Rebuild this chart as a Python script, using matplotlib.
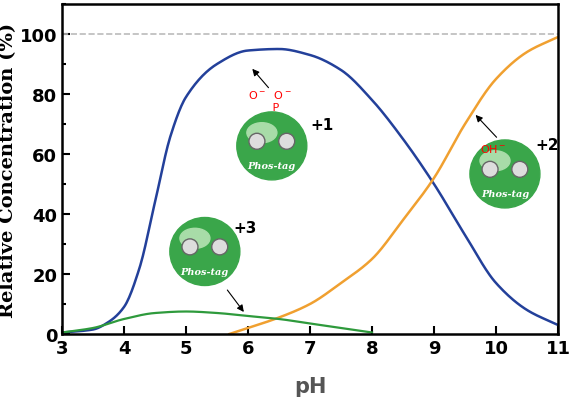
import matplotlib
matplotlib.use("Agg")
import matplotlib.pyplot as plt
from matplotlib.patches import Ellipse
from matplotlib.ticker import MultipleLocator
import numpy as np

blue_x = [3,3.5,3.75,4,4.25,4.5,4.75,5,5.5,6,6.5,7,7.5,8,8.5,9,9.5,10,10.5,11]
blue_y = [0.5,1.5,4,9,22,44,66,79,90,94.5,95,93,88,78,65,50,33,17,8,3]
orange_x = [5.7,6,6.5,7,7.5,8,8.5,9,9.5,10,10.5,11]
orange_y = [0,2,5.5,10,17,25,38,52,70,85,94,99]
green_x = [3,3.5,4,4.5,5,5.5,6,6.5,7,7.5,8]
green_y = [0.5,2,5,7,7.5,7,6,5,3.5,2,0.5]

def smooth(x, y):
    xs = np.linspace(x[0], x[-1], 400)
    x = np.array(x, float); y = np.array(y, float)
    h = np.diff(x); d = np.diff(y)/h
    m = np.zeros_like(y)
    for i in range(1, len(y)-1):
        if d[i-1]*d[i] > 0:
            w1 = 2*h[i]+h[i-1]; w2 = h[i]+2*h[i-1]
            m[i] = (w1+w2)/(w1/d[i-1]+w2/d[i])
    m[0] = d[0]; m[-1] = d[-1]
    ys = np.empty_like(xs)
    for i, xv in enumerate(xs):
        k = min(max(np.searchsorted(x, xv) - 1, 0), len(h)-1)
        t = (xv - x[k]) / h[k]
        h00 = 2*t**3-3*t**2+1; h10 = t**3-2*t**2+t; h01 = -2*t**3+3*t**2; h11 = t**3-t**2
        ys[i] = h00*y[k]+h10*h[k]*m[k]+h01*y[k+1]+h11*h[k]*m[k+1]
    return xs, ys

fig = plt.figure(figsize=(5.74, 4.14), dpi=100)
ax = fig.add_axes([62/574, 1-335/414, 496/574, 330/414])
ax.axhline(100, color='#bbbbbb', ls='--', lw=1.2)
ax.plot(*smooth(blue_x, blue_y), color='#23409a', lw=1.8)
ax.plot(*smooth(orange_x, orange_y), color='#f0a030', lw=1.8)
ax.plot(*smooth(green_x, green_y), color='#2e9a3c', lw=1.6)
ax.set_xlim(3, 11); ax.set_ylim(0, 110)
ax.xaxis.set_major_locator(MultipleLocator(1))
ax.yaxis.set_major_locator(MultipleLocator(20))
ax.yaxis.set_minor_locator(MultipleLocator(10))
ax.tick_params(direction='in', which='both', top=False, right=False, labelsize=13, width=1.5)
ax.tick_params(which='major', length=6)
ax.tick_params(which='minor', length=3)
for lab in ax.get_xticklabels() + ax.get_yticklabels():
    lab.set_fontweight('bold')
for s in ax.spines.values():
    s.set_linewidth(1.8)
ax.set_xlabel('pH', fontsize=15, fontweight='bold', color='#555555', labelpad=14)
ax.set_ylabel('Relative Concentration (%)', fontsize=14, fontweight='bold', family='DejaVu Serif', labelpad=2)

W, H = 496, 330
def sphere(cx, cy, label, lx, ly):
    ax.add_patch(Ellipse((cx, cy), 70/W, 68/H, transform=ax.transAxes, color='#3aa64a', zorder=5))
    ax.add_patch(Ellipse((cx-0.02, cy+0.04), 30/W, 20/H, transform=ax.transAxes, color='#a8dca8', zorder=5))
    ax.text(cx, cy-0.06, 'Phos-tag', transform=ax.transAxes, ha='center', va='center',
            color='white', fontsize=7, style='italic', fontweight='bold', family='DejaVu Serif', zorder=6)
    for dx in (-0.03, 0.03):
        ax.add_patch(Ellipse((cx+dx, cy+0.005+abs(dx)*0.3), 16/W, 16/H, transform=ax.transAxes,
                             facecolor='#dddddd', edgecolor='#666666', zorder=6))
    ax.text(lx, ly, label, transform=ax.transAxes, fontsize=11, fontweight='bold', zorder=6)

sphere(0.423, 0.57, '+1', 0.5, 0.62)
sphere(0.893, 0.485, '+2', 0.955, 0.56)
sphere(0.288, 0.25, '+3', 0.345, 0.31)
ax.text(0.42, 0.68, 'O$^-$  O$^-$\n   P', transform=ax.transAxes, color='red', fontsize=8, ha='center', zorder=7)
ax.text(0.87, 0.55, 'OH$^-$', transform=ax.transAxes, color='red', fontsize=8, ha='center', zorder=7)
ax.annotate('', xy=(0.38, 0.81), xytext=(0.42, 0.74), xycoords='axes fraction',
            arrowprops=dict(arrowstyle='-|>', color='black', lw=0.8))
ax.annotate('', xy=(0.83, 0.67), xytext=(0.88, 0.59), xycoords='axes fraction',
            arrowprops=dict(arrowstyle='-|>', color='black', lw=0.8))
ax.annotate('', xy=(0.37, 0.06), xytext=(0.33, 0.14), xycoords='axes fraction',
            arrowprops=dict(arrowstyle='-|>', color='black', lw=0.8))
fig.savefig('out.png', dpi=100)
